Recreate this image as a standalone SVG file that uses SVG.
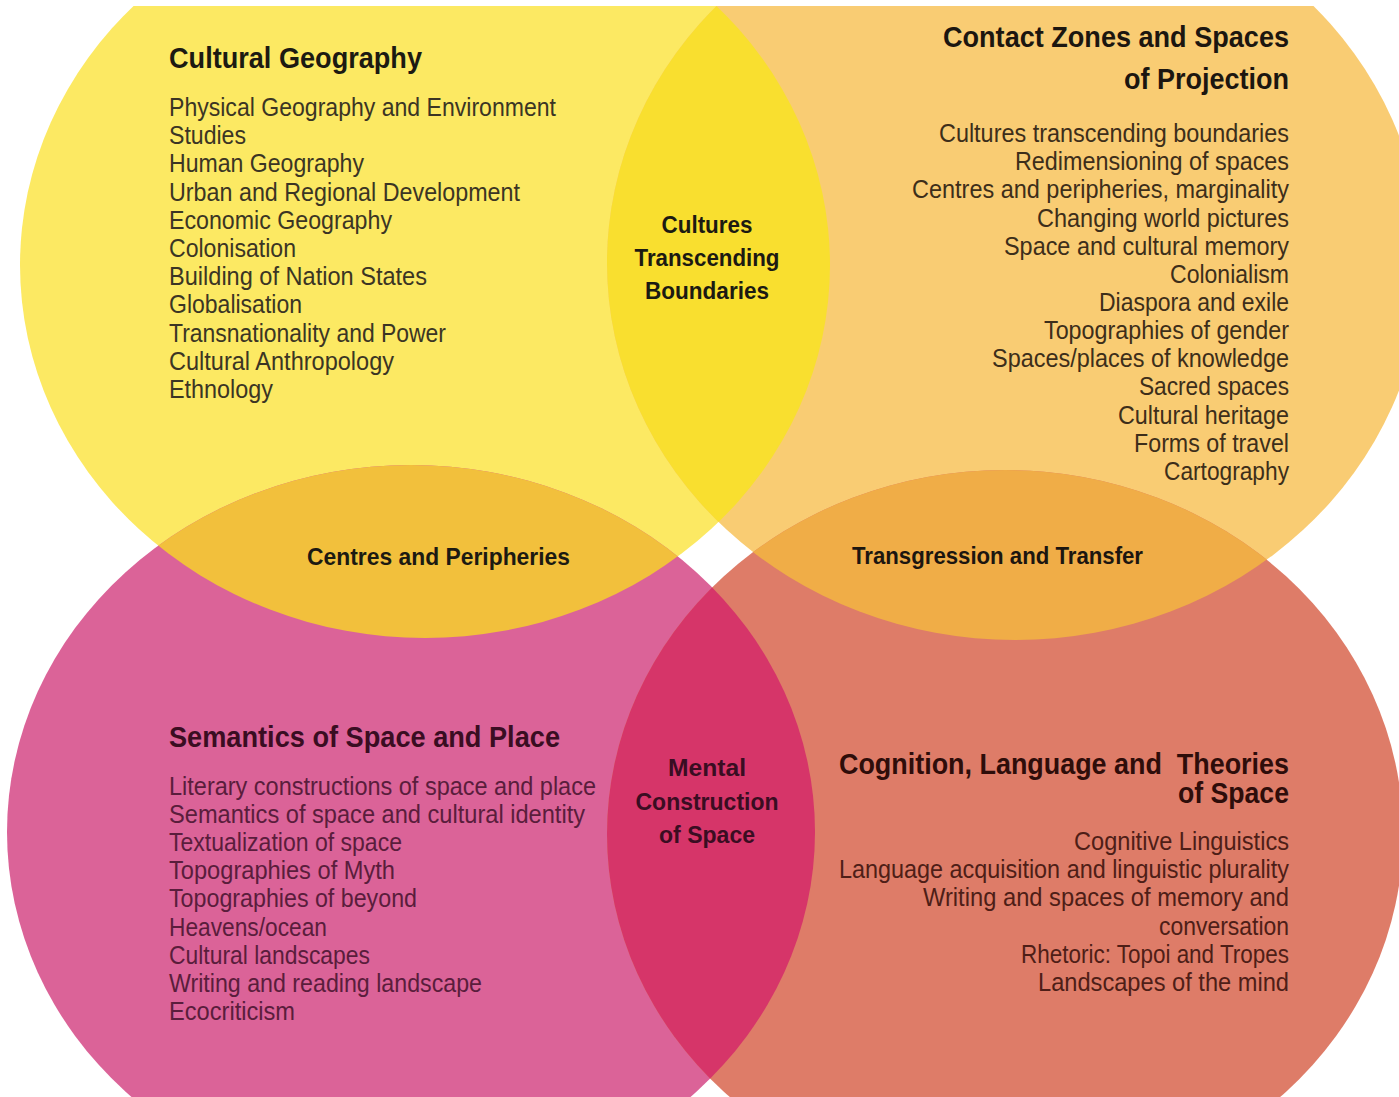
<svg xmlns="http://www.w3.org/2000/svg" width="1399" height="1097" viewBox="0 0 1399 1097">
<style>
text { font-family: "Liberation Sans", Arial, sans-serif; }
.h { font-weight: bold; font-size: 29px; }
.l { font-size: 25px; }
.c { font-weight: bold; font-size: 24px; text-anchor: middle; }
.e { text-anchor: end; }
.ty { fill: #1c1a12; }
.ly { fill: #3b3524; }
.to { fill: #1c1610; }
.lo { fill: #3d2e1a; }
.tp { fill: #3a0d22; }
.lp { fill: #5a1d3c; }
.ts { fill: #2e0d0a; }
.ls { fill: #4e1e17; }
</style>
<defs>
  <clipPath id="page"><rect x="0" y="6" width="1399" height="1091"/></clipPath>
  <clipPath id="cTL"><ellipse cx="425" cy="265" rx="405" ry="373"/></clipPath>
  <clipPath id="cBL"><ellipse cx="411" cy="832" rx="404" ry="367"/></clipPath>
  <clipPath id="cBR"><ellipse cx="1005" cy="834" rx="398" ry="364"/></clipPath>
</defs>
<rect width="1399" height="1097" fill="#ffffff"/>
<g clip-path="url(#page)">
  <g id="shapes">
    <ellipse cx="425" cy="265" rx="405" ry="373" fill="#FCE963"/>
    <ellipse cx="1015" cy="263" rx="408" ry="377" fill="#F9CC73"/>
    <ellipse cx="411" cy="832" rx="404" ry="367" fill="#DB6398"/>
    <ellipse cx="1005" cy="834" rx="398" ry="364" fill="#DE7C68"/>
    <ellipse cx="1015" cy="263" rx="408" ry="377" fill="#F9DF2F" clip-path="url(#cTL)"/>
    <ellipse cx="425" cy="265" rx="405" ry="373" fill="#F2C03C" clip-path="url(#cBL)"/>
    <ellipse cx="1015" cy="263" rx="408" ry="377" fill="#F0AD47" clip-path="url(#cBR)"/>
    <ellipse cx="1005" cy="834" rx="398" ry="364" fill="#D63569" clip-path="url(#cBL)"/>
  </g>
</g>
<g id="connectors"/>
<g id="cultural-geography">
  <text class="h ty" x="169" y="68" textLength="253" lengthAdjust="spacingAndGlyphs">Cultural Geography</text>
  <text class="l ly" x="169" y="116" textLength="387" lengthAdjust="spacingAndGlyphs">Physical Geography and Environment</text>
  <text class="l ly" x="169" y="144.2" textLength="77" lengthAdjust="spacingAndGlyphs">Studies</text>
  <text class="l ly" x="169" y="172.4" textLength="195" lengthAdjust="spacingAndGlyphs">Human Geography</text>
  <text class="l ly" x="169" y="200.6" textLength="351" lengthAdjust="spacingAndGlyphs">Urban and Regional Development</text>
  <text class="l ly" x="169" y="228.8" textLength="223" lengthAdjust="spacingAndGlyphs">Economic Geography</text>
  <text class="l ly" x="169" y="257" textLength="127" lengthAdjust="spacingAndGlyphs">Colonisation</text>
  <text class="l ly" x="169" y="285.2" textLength="258" lengthAdjust="spacingAndGlyphs">Building of Nation States</text>
  <text class="l ly" x="169" y="313.4" textLength="133" lengthAdjust="spacingAndGlyphs">Globalisation</text>
  <text class="l ly" x="169" y="341.6" textLength="277" lengthAdjust="spacingAndGlyphs">Transnationality and Power</text>
  <text class="l ly" x="169" y="369.8" textLength="225" lengthAdjust="spacingAndGlyphs">Cultural Anthropology</text>
  <text class="l ly" x="169" y="398" textLength="104" lengthAdjust="spacingAndGlyphs">Ethnology</text>
</g>
<g id="contact-zones">
  <text class="h to e" x="1289" y="47" textLength="346" lengthAdjust="spacingAndGlyphs">Contact Zones and Spaces</text>
  <text class="h to e" x="1289" y="89" textLength="165" lengthAdjust="spacingAndGlyphs">of Projection</text>
  <text class="l lo e" x="1289" y="142" textLength="350" lengthAdjust="spacingAndGlyphs">Cultures transcending boundaries</text>
  <text class="l lo e" x="1289" y="170.2" textLength="274" lengthAdjust="spacingAndGlyphs">Redimensioning of spaces</text>
  <text class="l lo e" x="1289" y="198.3" textLength="377" lengthAdjust="spacingAndGlyphs">Centres and peripheries, marginality</text>
  <text class="l lo e" x="1289" y="226.5" textLength="252" lengthAdjust="spacingAndGlyphs">Changing world pictures</text>
  <text class="l lo e" x="1289" y="254.6" textLength="285" lengthAdjust="spacingAndGlyphs">Space and cultural memory</text>
  <text class="l lo e" x="1289" y="282.8" textLength="119" lengthAdjust="spacingAndGlyphs">Colonialism</text>
  <text class="l lo e" x="1289" y="310.9" textLength="190" lengthAdjust="spacingAndGlyphs">Diaspora and exile</text>
  <text class="l lo e" x="1289" y="339.1" textLength="245" lengthAdjust="spacingAndGlyphs">Topographies of gender</text>
  <text class="l lo e" x="1289" y="367.2" textLength="297" lengthAdjust="spacingAndGlyphs">Spaces/places of knowledge</text>
  <text class="l lo e" x="1289" y="395.4" textLength="150" lengthAdjust="spacingAndGlyphs">Sacred spaces</text>
  <text class="l lo e" x="1289" y="423.5" textLength="171" lengthAdjust="spacingAndGlyphs">Cultural heritage</text>
  <text class="l lo e" x="1289" y="451.7" textLength="155" lengthAdjust="spacingAndGlyphs">Forms of travel</text>
  <text class="l lo e" x="1289" y="479.8" textLength="125" lengthAdjust="spacingAndGlyphs">Cartography</text>
</g>
<g id="semantics">
  <text class="h tp" x="169" y="747" textLength="391" lengthAdjust="spacingAndGlyphs">Semantics of Space and Place</text>
  <text class="l lp" x="169" y="795" textLength="427" lengthAdjust="spacingAndGlyphs">Literary constructions of space and place</text>
  <text class="l lp" x="169" y="823.1" textLength="416" lengthAdjust="spacingAndGlyphs">Semantics of space and cultural identity</text>
  <text class="l lp" x="169" y="851.2" textLength="233" lengthAdjust="spacingAndGlyphs">Textualization of space</text>
  <text class="l lp" x="169" y="879.3" textLength="226" lengthAdjust="spacingAndGlyphs">Topographies of Myth</text>
  <text class="l lp" x="169" y="907.4" textLength="248" lengthAdjust="spacingAndGlyphs">Topographies of beyond</text>
  <text class="l lp" x="169" y="935.5" textLength="158" lengthAdjust="spacingAndGlyphs">Heavens/ocean</text>
  <text class="l lp" x="169" y="963.6" textLength="201" lengthAdjust="spacingAndGlyphs">Cultural landscapes</text>
  <text class="l lp" x="169" y="991.7" textLength="313" lengthAdjust="spacingAndGlyphs">Writing and reading landscape</text>
  <text class="l lp" x="169" y="1019.8" textLength="126" lengthAdjust="spacingAndGlyphs">Ecocriticism</text>
</g>
<g id="cognition">
  <text class="h ts e" x="1289" y="774" textLength="450" lengthAdjust="spacingAndGlyphs" xml:space="preserve">Cognition, Language and  Theories</text>
  <text class="h ts e" x="1289" y="803" textLength="111" lengthAdjust="spacingAndGlyphs">of Space</text>
  <text class="l ls e" x="1289" y="850" textLength="215" lengthAdjust="spacingAndGlyphs">Cognitive Linguistics</text>
  <text class="l ls e" x="1289" y="878.2" textLength="450" lengthAdjust="spacingAndGlyphs">Language acquisition and linguistic plurality</text>
  <text class="l ls e" x="1289" y="906.4" textLength="366" lengthAdjust="spacingAndGlyphs">Writing and spaces of memory and</text>
  <text class="l ls e" x="1289" y="934.6" textLength="130" lengthAdjust="spacingAndGlyphs">conversation</text>
  <text class="l ls e" x="1289" y="962.8" textLength="268" lengthAdjust="spacingAndGlyphs">Rhetoric: Topoi and Tropes</text>
  <text class="l ls e" x="1289" y="991" textLength="251" lengthAdjust="spacingAndGlyphs">Landscapes of the mind</text>
</g>
<g id="cultures-transcending-boundaries">
  <text class="c ty" x="707" y="233" textLength="91" lengthAdjust="spacingAndGlyphs">Cultures</text>
  <text class="c ty" x="707" y="266" textLength="145" lengthAdjust="spacingAndGlyphs">Transcending</text>
  <text class="c ty" x="707" y="299" textLength="124" lengthAdjust="spacingAndGlyphs">Boundaries</text>
</g>
<g id="centres-and-peripheries">
  <text class="c ty" x="438.5" y="565" textLength="263" lengthAdjust="spacingAndGlyphs">Centres and Peripheries</text>
</g>
<g id="transgression-and-transfer">
  <text class="c to" x="997.5" y="564" textLength="291" lengthAdjust="spacingAndGlyphs">Transgression and Transfer</text>
</g>
<g id="mental-construction-of-space">
  <text class="c tp" x="707" y="776" textLength="78" lengthAdjust="spacingAndGlyphs">Mental</text>
  <text class="c tp" x="707" y="810" textLength="143" lengthAdjust="spacingAndGlyphs">Construction</text>
  <text class="c tp" x="707" y="843" textLength="96" lengthAdjust="spacingAndGlyphs">of Space</text>
</g>
</svg>
